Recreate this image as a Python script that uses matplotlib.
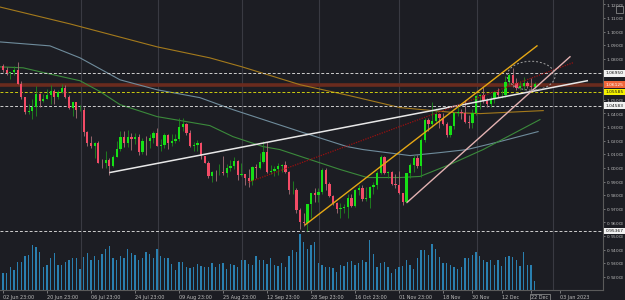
import numpy as np
import matplotlib

matplotlib.use("Agg")
import matplotlib.pyplot as plt
from matplotlib.patches import Ellipse, Rectangle

# daily bars, bar index 0 = "02 Jun 23:00"
bar_idx = list(range(-1, 146))
opens = [1.0648, 1.0746, 1.0719, 1.0697, 1.0701, 1.0716, 1.0617, 1.0519, 1.0409, 1.0417,
         1.0446, 1.0546, 1.0495, 1.0509, 1.0535, 1.0567, 1.0521, 1.0554, 1.0584, 1.0519,
         1.0442, 1.0483, 1.0424, 1.0424, 1.0265, 1.0181, 1.0161, 1.0186, 1.0040, 1.0036,
         1.0060, 1.0018, 1.0081, 1.0141, 1.0225, 1.0180, 1.0228, 1.0212, 1.0226, 1.0117,
         1.0200, 1.0196, 1.0222, 1.0259, 1.0164, 1.0166, 1.0245, 1.0180, 1.0196, 1.0212,
         1.0299, 1.0321, 1.0258, 1.0160, 1.0170, 1.0180, 1.0087, 1.0040, 0.9944, 0.9969,
         0.9968, 0.9971, 0.9965, 1.0000, 1.0016, 1.0054, 0.9945, 0.9955, 0.9929, 0.9903,
         1.0005, 0.9998, 1.0041, 1.0120, 0.9970, 0.9978, 0.9994, 1.0015, 1.0023, 0.9970,
         0.9836, 0.9838, 0.9689, 0.9607, 0.9594, 0.9735, 0.9815, 0.9802, 0.9825, 0.9985,
         0.9886, 0.9795, 0.9740, 0.9700, 0.9705, 0.9712, 0.9780, 0.9722, 0.9840, 0.9855,
         0.9775, 0.9780, 0.9860, 0.9875, 0.9965, 1.0080, 0.9965, 0.9967, 0.9880, 0.9875,
         0.9817, 0.9750, 0.9960, 1.0020, 1.0075, 1.0015, 1.0205, 1.0355, 1.0325, 1.0345,
         1.0395, 1.0365, 1.0325, 1.0245, 1.0305, 1.0400, 1.0410, 1.0400, 1.0340, 1.0330,
         1.0405, 1.0525, 1.0535, 1.0490, 1.0470, 1.0505, 1.0555, 1.0535, 1.0538, 1.0630,
         1.0680, 1.0625, 1.0585, 1.0605, 1.0620, 1.0605, 1.0595]
highs = [1.0750, 1.0764, 1.0741, 1.0705, 1.0748, 1.0774, 1.0638, 1.0524, 1.0471, 1.0505,
         1.0601, 1.0550, 1.0546, 1.0582, 1.0606, 1.0579, 1.0572, 1.0615, 1.0606, 1.0532,
         1.0486, 1.0486, 1.0463, 1.0448, 1.0275, 1.0232, 1.0191, 1.0201, 1.0066, 1.0122,
         1.0073, 1.0097, 1.0200, 1.0269, 1.0274, 1.0278, 1.0258, 1.0258, 1.0250, 1.0220,
         1.0235, 1.0253, 1.0275, 1.0294, 1.0211, 1.0254, 1.0250, 1.0248, 1.0248, 1.0368,
         1.0368, 1.0330, 1.0276, 1.0189, 1.0202, 1.0191, 1.0090, 1.0048, 0.9980, 0.9985,
         1.0028, 1.0090, 1.0029, 1.0055, 1.0079, 1.0056, 1.0035, 0.9955, 0.9989, 1.0011,
         1.0029, 1.0113, 1.0198, 1.0187, 1.0019, 1.0017, 1.0037, 1.0029, 1.0050, 0.9975,
         0.9907, 0.9852, 0.9709, 0.9671, 0.9737, 0.9815, 0.9853, 0.9852, 0.9999, 0.9998,
         0.9897, 0.9803, 0.9749, 0.9746, 0.9736, 0.9808, 0.9809, 0.9847, 0.9875, 0.9875,
         0.9864, 0.9870, 0.9900, 0.9976, 1.0094, 1.0088, 0.9975, 0.9975, 0.9954, 0.9976,
         0.9820, 0.9966, 1.0034, 1.0094, 1.0093, 1.0222, 1.0364, 1.0365, 1.0481, 1.0438,
         1.0400, 1.0400, 1.0335, 1.0314, 1.0408, 1.0448, 1.0433, 1.0497, 1.0390, 1.0430,
         1.0535, 1.0545, 1.0595, 1.0515, 1.0530, 1.0563, 1.0588, 1.0572, 1.0673, 1.0695,
         1.0736, 1.0660, 1.0638, 1.0667, 1.0637, 1.0660, 1.0630]
lows = [1.0627, 1.0703, 1.0683, 1.0654, 1.0681, 1.0615, 1.0507, 1.0398, 1.0396, 1.0358,
        1.0382, 1.0445, 1.0484, 1.0507, 1.0470, 1.0470, 1.0509, 1.0548, 1.0510, 1.0433,
        1.0382, 1.0365, 1.0417, 1.0236, 1.0161, 1.0144, 1.0072, 1.0035, 0.9999, 0.9998,
        0.9952, 1.0006, 1.0078, 1.0122, 1.0153, 1.0151, 1.0131, 1.0175, 1.0097, 1.0103,
        1.0098, 1.0145, 1.0185, 1.0160, 1.0123, 1.0148, 1.0141, 1.0159, 1.0186, 1.0200,
        1.0274, 1.0241, 1.0151, 1.0121, 1.0123, 1.0069, 1.0033, 0.9926, 0.9899, 0.9902,
        0.9946, 0.9947, 0.9935, 0.9980, 0.9993, 0.9910, 0.9941, 0.9876, 0.9864, 0.9876,
        0.9929, 0.9995, 1.0038, 0.9966, 0.9955, 0.9944, 0.9945, 0.9967, 0.9964, 0.9808,
        0.9807, 0.9671, 0.9553, 0.9571, 0.9536, 0.9635, 0.9749, 0.9750, 0.9808, 0.9836,
        0.9787, 0.9730, 0.9670, 0.9631, 0.9668, 0.9632, 0.9713, 0.9711, 0.9800, 0.9757,
        0.9755, 0.9705, 0.9808, 0.9843, 0.9955, 0.9953, 0.9929, 0.9872, 0.9852, 0.9810,
        0.9730, 0.9745, 0.9924, 0.9974, 1.0000, 0.9935, 1.0193, 1.0270, 1.0298, 1.0333,
        1.0291, 1.0313, 1.0224, 1.0225, 1.0288, 1.0378, 1.0356, 1.0331, 1.0290, 1.0290,
        1.0390, 1.0430, 1.0480, 1.0445, 1.0445, 1.0480, 1.0519, 1.0510, 1.0520, 1.0610,
        1.0592, 1.0572, 1.0575, 1.0569, 1.0590, 1.0575, 1.0585]
closes = [1.0746, 1.0719, 1.0697, 1.0701, 1.0716, 1.0617, 1.0519, 1.0409, 1.0417, 1.0446,
          1.0546, 1.0495, 1.0509, 1.0535, 1.0567, 1.0521, 1.0554, 1.0584, 1.0519, 1.0442,
          1.0483, 1.0424, 1.0424, 1.0265, 1.0181, 1.0161, 1.0186, 1.0040, 1.0036, 1.0060,
          1.0018, 1.0081, 1.0141, 1.0225, 1.0180, 1.0228, 1.0212, 1.0226, 1.0117, 1.0200,
          1.0196, 1.0222, 1.0259, 1.0164, 1.0166, 1.0245, 1.0180, 1.0196, 1.0212, 1.0299,
          1.0321, 1.0258, 1.0160, 1.0170, 1.0180, 1.0087, 1.0040, 0.9944, 0.9969, 0.9968,
          0.9971, 0.9965, 1.0000, 1.0016, 1.0054, 0.9945, 0.9955, 0.9929, 0.9903, 1.0005,
          0.9998, 1.0041, 1.0120, 0.9970, 0.9978, 0.9994, 1.0015, 1.0023, 0.9970, 0.9836,
          0.9838, 0.9689, 0.9607, 0.9594, 0.9735, 0.9815, 0.9802, 0.9825, 0.9985, 0.9886,
          0.9795, 0.9740, 0.9700, 0.9705, 0.9712, 0.9780, 0.9722, 0.9840, 0.9855, 0.9775,
          0.9780, 0.9860, 0.9875, 0.9965, 1.0080, 0.9965, 0.9967, 0.9880, 0.9875, 0.9817,
          0.9750, 0.9960, 1.0020, 1.0075, 1.0015, 1.0205, 1.0355, 1.0325, 1.0345, 1.0395,
          1.0365, 1.0325, 1.0245, 1.0305, 1.0400, 1.0410, 1.0400, 1.0340, 1.0330, 1.0405,
          1.0525, 1.0535, 1.0490, 1.0470, 1.0505, 1.0555, 1.0535, 1.0538, 1.0630, 1.0680,
          1.0625, 1.0585, 1.0605, 1.0620, 1.0605, 1.0595, 1.0613]
volume = [19.3, 17.3, 16.7, 23.3, 20, 28.3, 28.3, 34, 35, 45.7, 43.3, 38.3, 23.3, 25, 31.7,
          37.7, 25, 25, 27.7, 30, 31.7, 32.7, 20.7, 33.3, 37.7, 30, 34, 30, 36, 41.7, 44,
          32.7, 30, 34.3, 32.7, 41.3, 37.7, 35.7, 30, 31.7, 38.3, 36, 32.7, 41.7, 34, 32.7,
          31.7, 26, 20, 27.7, 28.3, 22.7, 21.7, 23.3, 26, 24.3, 22.7, 23.3,
          26.7, 22.7, 26, 26.7, 20.7, 26, 25, 22.7, 30, 30, 26, 25, 34, 30, 30, 26, 32.7,
          25, 24, 26.7, 22.7, 34, 40.7, 38.3, 56.7, 48.3, 41.7, 45, 48.3, 26.7, 25, 23.3,
          23.3, 21.7, 18.3, 25, 24, 28.3, 29.3, 25, 26.7, 30, 28.3, 50.7, 36.7, 22.7, 26.7,
          28.3, 22.7, 17.3, 20.7, 22.7,
          24, 30, 25, 20.7, 31.7, 40.7, 40.7, 35, 46.7, 41.7, 33.3, 27.3, 26.7, 25, 23.3,
          21, 22.7, 31.7, 31.7, 35, 38.3, 34, 30, 28.3, 30, 25, 30, 24, 33.3, 34, 33.3, 30,
          24, 38.3, 25, 25, 9]

# moving averages
ma200_x = [-0.8, 18.3, 42.0, 56.4, 65.2, 81.0, 94.6, 108.3, 123.3, 130.1, 147.3]
ma200_y = [1.1181, 1.1057, 1.0889, 1.0808, 1.0742, 1.0611, 1.0530, 1.0443, 1.0406, 1.0399, 1.0421]
ma100_x = [-0.8, 12.8, 21.0, 31.9, 42.0, 53.7, 62.7, 81.8, 93.8, 98.2, 111.0, 119.2, 126.5, 135.5, 145.9]
ma100_y = [1.0925, 1.0896, 1.0808, 1.0647, 1.0574, 1.0516, 1.0428, 1.0260, 1.0157, 1.0135,
           1.0091, 1.0113, 1.0135, 1.0194, 1.0267]
ma50_x = [-0.8, 5.5, 10.1, 21.0, 26.5, 31.9, 42.0, 56.4, 62.7, 70.9, 75.5, 83.7, 91.9, 99.3,
          108.3, 113.7, 121.9, 130.9, 146.4]
ma50_y = [1.0742, 1.0735, 1.0706, 1.0640, 1.0560, 1.0465, 1.0377, 1.0311, 1.0230, 1.0157,
          1.0135, 1.0062, 0.9989, 0.9930, 0.9930, 0.9938, 1.0026, 1.0135, 1.0355]

# drawn trend lines: (x0, y0, x1, y1)
trend_white = (29.2, 0.9967, 159.3, 1.0640)
trend_red = (66.8, 0.9894, 155.4, 1.0772)
trend_orange = (82.4, 0.9583, 145.6, 1.0896)
trend_pink = (110.2, 0.9748, 154.6, 1.0816)

levels = [1.06950, 1.06125, 1.05585, 1.04583, 0.95367]
level_names = ["1.06950", "1.06125", "1.05585", "1.04583", "0.95367"]

price_ticks = [0.92, 0.93, 0.94, 0.95, 0.96, 0.97, 0.98, 0.99, 1.00, 1.01, 1.02, 1.03,
               1.04, 1.05, 1.08, 1.09, 1.10, 1.11, 1.12]
date_ticks = [0, 12, 24, 36, 48, 60, 72, 84, 96, 108, 120, 128, 136, 144, 152]
date_labels = ["02 Jun 23:00", "20 Jun 23:00", "06 Jul 23:00", "24 Jul 23:00", "09 Aug 23:00",
               "25 Aug 23:00", "12 Sep 23:00", "28 Sep 23:00", "16 Oct 23:00", "01 Nov 23:00",
               "18 Nov", "30 Nov", "12 Dec", "22 Dec", "03 Jan 2023"]
month_lines = [21.3, 42.2, 65.2, 86.2, 108, 129.3, 150]

BG = "#1c1d23"
UP = "#16e016"
DOWN = "#f24b66"
TXT = "#bcbcbc"

fig = plt.figure(figsize=(6.25, 3.0), dpi=100, facecolor=BG)
ax = fig.add_axes([0, 0.033, 0.9648, 0.967], facecolor=BG)

# volume histogram lives on a twin axis (created first: twinx moves ticks to the left)
ax2 = ax.twinx()
ax2.bar(bar_idx, volume, width=0.38, color="#2a80b0", zorder=1)
ax2.set_ylim(0, 291)
ax2.set_yticks([])
for s in ax2.spines.values():
    s.set_visible(False)

for m in month_lines:
    ax.axvline(m, color="#393a42", lw=0.8, zorder=0)

x = np.array(bar_idx)
o, h, l, c = map(np.array, (opens, highs, lows, closes))
up = c >= o
body_col = np.where(up, UP, DOWN)
wick_col = np.where(up, "#1f8a1f", "#a87078")
ax.vlines(x, l, h, colors=wick_col, lw=0.6, zorder=3)
ax.bar(x, np.maximum(np.abs(c - o), 0.0003), bottom=np.minimum(o, c), width=0.62,
       color=body_col, zorder=4)

ax.plot(ma200_x, ma200_y, color="#a47a1c", lw=0.8, zorder=2)
ax.plot(ma100_x, ma100_y, color="#6f8c9c", lw=0.8, zorder=2)
ax.plot(ma50_x, ma50_y, color="#3b8a3b", lw=0.8, zorder=2)

# horizontal levels
ax.axhline(levels[0], color="#cfcfcf", lw=0.7, dashes=(3, 2), zorder=2)
ax.axhline(levels[1], color="#6a2b1e", lw=2.6, zorder=1)
ax.axhline(levels[2], color="#cccc10", lw=0.7, dashes=(3, 2), zorder=2)
ax.axhline(levels[3], color="#cfcfcf", lw=0.7, dashes=(3, 2), zorder=2)
ax.axhline(levels[4], color="#cfcfcf", lw=0.7, dashes=(3, 2), zorder=2)


def seg(t, **kw):
    ax.plot([t[0], t[2]], [t[1], t[3]], **kw)


seg(trend_white, color="#e8e8e8", lw=1.1, zorder=5)
seg(trend_red, color="#9a1010", lw=0.9, ls=(0, (1, 1)), zorder=5)
seg(trend_orange, color="#e6a814", lw=1.0, zorder=5)
seg(trend_pink, color="#e3b2b2", lw=1.0, zorder=5)

ax.add_patch(Ellipse((144.0, 1.0677), 13.1, 0.0212, fill=False, ec="#a0a0a0",
                     lw=0.7, ls=(0, (2, 2)), zorder=6))

ax.set_xlim(-0.82, 163.6)
ax.set_ylim(0.91039, 1.12326)

ax.yaxis.tick_right()
ax.set_yticks(price_ticks)
ax.set_yticklabels([f"{v:.4f}$_0$" for v in price_ticks])
ax.set_xticks(date_ticks)
ax.set_xticklabels(date_labels)
for lbl in ax.get_xticklabels():
    lbl.set_ha("left")
ax.get_xticklabels()[13].set_bbox(dict(boxstyle="square,pad=0.3", fc=BG, ec="#9a9a9a", lw=0.5))
ax.tick_params(axis="x", colors=TXT, labelsize=3.5, length=2, width=0.4, pad=1.5)
ax.tick_params(axis="y", colors=TXT, labelsize=3.1, length=1.5, width=0.4, pad=1.0)
for s in ("top", "left"):
    ax.spines[s].set_visible(False)
for s in ("right", "bottom"):
    ax.spines[s].set_color("#5a5a5a")
    ax.spines[s].set_linewidth(0.8)

# price tags on the right scale
tag_fc = ["#f2f2f2", "#f0663a", "#f5f200", "#f2f2f2", "#f2f2f2"]
tag_tc = ["#111111", "#ffffff", "#111111", "#111111", "#111111"]
for v, name, fc, tc in zip(levels, level_names, tag_fc, tag_tc):
    ax2.text(1.004, v, name, transform=ax.get_yaxis_transform(), ha="left", va="center",
             fontsize=3.2, color=tc, clip_on=False, zorder=10,
             bbox=dict(boxstyle="square,pad=0.3", fc=fc, ec="none"))

fig.add_artist(Rectangle((0.986, 0.957), 0.011, 0.022, transform=fig.transFigure,
                         fill=False, ec="#9a9a9a", lw=0.5))

fig.savefig("out.png", dpi=100, facecolor=BG)
